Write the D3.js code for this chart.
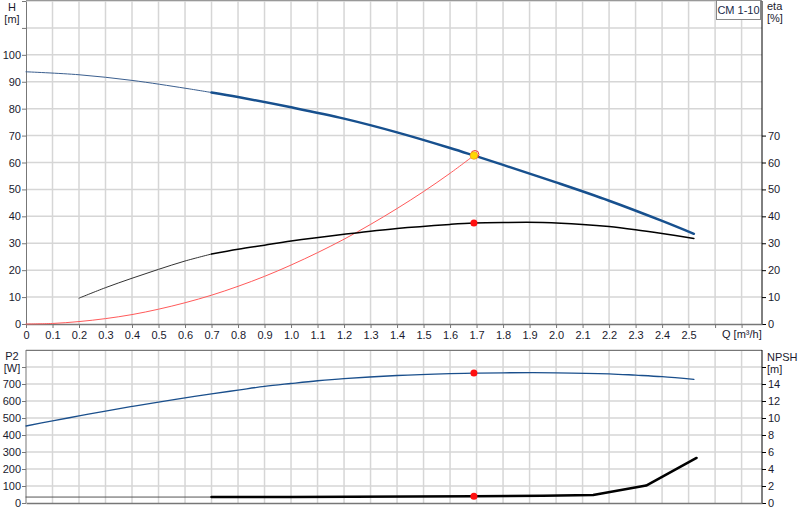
<!DOCTYPE html>
<html>
<head>
<meta charset="utf-8">
<script src="https://cdn.jsdelivr.net/npm/d3@7"></script>
<style>
  body { margin: 0; background: #fff; }
  svg { display: block; font-family: "Liberation Sans", Arial, sans-serif; }
</style>
</head>
<body>
<svg id="chart" width="800" height="520"></svg>
<script>
// values
const qTicks = [0, 0.1, 0.2, 0.3, 0.4, 0.5, 0.6, 0.7, 0.8, 0.9, 1.0, 1.1, 1.2, 1.3, 1.4, 1.5, 1.6, 1.7, 1.8, 1.9, 2.0, 2.1, 2.2, 2.3, 2.4, 2.5];
const qGrid = [0, 0.1, 0.2, 0.3, 0.4, 0.5, 0.6, 0.7, 0.8, 0.9, 1.0, 1.1, 1.2, 1.3, 1.4, 1.5, 1.6, 1.7, 1.8, 1.9, 2.0, 2.1, 2.2, 2.3, 2.4, 2.5, 2.6, 2.7];

// head curve H [m], thin part then thick (operating range)
const headThin = [[0, 93.7], [0.2, 92.6], [0.4, 90.5], [0.6, 87.6], [0.7, 86.0]];
const headThick = [[0.7, 86.0], [0.8, 84.3], [1.0, 80.5], [1.2, 76.3], [1.4, 71.2], [1.6, 65.4], [1.69, 62.6], [1.8, 59.1], [2.0, 52.6], [2.2, 45.8], [2.4, 38.3], [2.52, 33.5]];

// efficiency eta [%]
const etaThin = [[0.2, 9.6], [0.3, 13.5], [0.4, 17.0], [0.5, 20.3], [0.6, 23.4], [0.7, 26.0]];
const etaThick = [[0.7, 26.0], [0.8, 27.8], [0.9, 29.3], [1.0, 30.8], [1.2, 33.3], [1.4, 35.5], [1.6, 37.0], [1.69, 37.5], [1.8, 37.7], [1.95, 37.7], [2.1, 37.0], [2.2, 36.2], [2.3, 35.0], [2.4, 33.6], [2.52, 31.8]];

// system curve (red)
const system = [[0, 0], [0.1, 0.2], [0.2, 0.9], [0.3, 2.0], [0.4, 3.5], [0.5, 5.5], [0.6, 7.9], [0.7, 10.7], [0.8, 14.0], [0.9, 17.7], [1.0, 21.9], [1.1, 26.5], [1.2, 31.5], [1.3, 37.0], [1.4, 42.9], [1.5, 49.2], [1.6, 56.0], [1.69, 62.6]];

// power P2 [W]
const power = [[0, 453], [0.1, 483], [0.2, 512], [0.3, 541], [0.4, 568], [0.5, 594], [0.6, 618], [0.7, 642], [0.8, 664], [0.9, 686], [1.0, 703], [1.1, 719], [1.2, 732], [1.4, 750], [1.6, 761], [1.69, 764], [1.8, 766], [2.0, 766], [2.2, 760], [2.3, 752], [2.4, 743], [2.52, 727]];

// NPSH [m]
const npshThin = [[0, 0.7], [0.7, 0.7]];
const npshThick = [[0.7, 0.7], [1.0, 0.72], [1.69, 0.8], [1.95, 0.86], [2.14, 0.95], [2.34, 2.05], [2.53, 5.3]];

const duty = { q: 1.69, h: 62.6, eta: 37.5, p2: 764, npsh: 0.8 };

const hTicks = [0, 10, 20, 30, 40, 50, 60, 70, 80, 90, 100, 110, 120];
const hLabels = [0, 10, 20, 30, 40, 50, 60, 70, 80, 90, 100];
const etaLabels = [0, 10, 20, 30, 40, 50, 60, 70];
const pTicks = [0, 100, 200, 300, 400, 500, 600, 700, 800, 900];
const pLabels = [0, 100, 200, 300, 400, 500, 600, 700];
const nTicks = [0, 2, 4, 6, 8, 10, 12, 14, 16];
const nLabels = [0, 2, 4, 6, 8, 10, 12, 14];

const svg = d3.select("#chart");
const left = 26, right = 762;

const x = d3.scaleLinear().domain([0, 2.777]).range([left, right]);
const yH = d3.scaleLinear().domain([0, 120]).range([324, 1]);
const yP = d3.scaleLinear().domain([0, 900]).range([503, 350]);
const yN = d3.scaleLinear().domain([0, 18]).range([503, 350]);

const gridColor = "#d6d6d6";
const textColor = "#1a1a2e";

function grid(yScale, yValues, top, bottom) {
    const g = svg.append("g");
    g.selectAll("line.v").data(qGrid.slice(1)).enter().append("line")
        .attr("x1", d => x(d)).attr("x2", d => x(d))
        .attr("y1", top).attr("y2", bottom)
        .attr("stroke", gridColor).attr("stroke-width", 1.5);
    g.selectAll("line.h").data(yValues.slice(1)).enter().append("line")
        .attr("x1", left).attr("x2", right)
        .attr("y1", d => yScale(d)).attr("y2", d => yScale(d))
        .attr("stroke", gridColor).attr("stroke-width", 1.5);
}

grid(yH, hTicks, 1, 324);
grid(yP, pTicks, 350, 503);

// frames
svg.append("line").attr("x1", left).attr("x2", right).attr("y1", 0.5).attr("y2", 0.5).attr("stroke", "#999");
svg.append("line").attr("x1", left).attr("x2", right).attr("y1", 350.5).attr("y2", 350.5).attr("stroke", "#777");

// axes
function styleAxis(g, color) {
    g.selectAll("path, line").attr("stroke", color);
    g.selectAll("text").attr("fill", textColor).style("font-size", "11px")
        .style("font-family", "'Liberation Sans', Arial, sans-serif");
}

// top panel
const axH = svg.append("g").attr("transform", `translate(${left},0)`)
    .call(d3.axisLeft(yH).tickValues(hTicks).tickSize(4).tickSizeOuter(0)
        .tickFormat(d => hLabels.includes(d) ? d : ""));
styleAxis(axH, "#777");
axH.selectAll("text").attr("x", -5);

const axEta = svg.append("g").attr("transform", `translate(${right},0)`)
    .call(d3.axisRight(yH).tickValues(etaLabels).tickSize(4).tickSizeOuter(0));
styleAxis(axEta, "#000");
axEta.select("path").attr("d", `M0,${yH(0)}V1`);
axEta.selectAll("text").attr("x", 6);

const axQ = svg.append("g").attr("transform", `translate(0,${yH(0)})`)
    .call(d3.axisBottom(x).tickValues(qGrid).tickSize(4).tickSizeOuter(0)
        .tickFormat(d => qTicks.includes(d) ? d3.format(".1f")(d).replace(/^0\.0$/, "0") : ""));
styleAxis(axQ, "#777");
axQ.select("path").attr("stroke-width", 1.5);
axQ.selectAll("text").attr("y", 7);

svg.append("text").attr("x", 722).attr("y", 338).attr("fill", textColor)
    .style("font-size", "11px").text("Q [m³/h]");

// bottom panel
const axP = svg.append("g").attr("transform", `translate(${left},0)`)
    .call(d3.axisLeft(yP).tickValues(pTicks.slice(0, -1)).tickSize(4).tickSizeOuter(0)
        .tickFormat(d => pLabels.includes(d) ? d : ""));
styleAxis(axP, "#777");
axP.select("path").attr("d", `M0,503V350`);
axP.selectAll("text").attr("x", -5);

const axN = svg.append("g").attr("transform", `translate(${right},0)`)
    .call(d3.axisRight(yN).tickValues(nTicks).tickSize(4).tickSizeOuter(0)
        .tickFormat(d => nLabels.includes(d) ? d : ""));
styleAxis(axN, "#000");
axN.select("path").attr("d", `M0,503V350`);
axN.selectAll("text").attr("x", 6);

const axQ2 = svg.append("g").attr("transform", `translate(0,503)`)
    .call(d3.axisBottom(x).tickValues([]).tickSizeOuter(0));
styleAxis(axQ2, "#777");
axQ2.select("path").attr("stroke-width", 1.5);

// axis titles
function title(tx, ty, txt, anchor) {
    svg.append("text").attr("x", tx).attr("y", ty).attr("text-anchor", anchor)
        .attr("fill", textColor).style("font-size", "11px").text(txt);
}
title(12, 11, "H", "middle");
title(12, 23, "[m]", "middle");
title(767, 10, "eta", "start");
title(767, 22, "[%]", "start");
title(12, 360, "P2", "middle");
title(12, 372, "[W]", "middle");
title(767, 361, "NPSH", "start");
title(767, 373, "[m]", "start");

// curves
function curve(data, yScale, color, width, shape) {
    svg.append("path").datum(data)
        .attr("fill", "none").attr("stroke", color).attr("stroke-width", width)
        .attr("stroke-linejoin", "round").attr("stroke-linecap", "round")
        .attr("d", d3.line().x(d => x(d[0])).y(d => yScale(d[1])).curve(shape || d3.curveCatmullRom));
}

curve(system, yH, "#ff5a5a", 1);
curve(headThin, yH, "#3b5f8f", 1);
curve(headThick, yH, "#17508e", 2.5);
curve(etaThin, yH, "#333", 1);
curve(etaThick, yH, "#000", 1.5);
curve(power, yP, "#1a4f8c", 1.3);
curve(npshThin, yN, "#555", 1, d3.curveLinear);
curve(npshThick, yN, "#000", 2.5, d3.curveLinear);

// duty point markers
svg.append("circle").attr("cx", x(duty.q) + 1).attr("cy", yH(duty.h) - 1).attr("r", 4)
    .attr("fill", "none").attr("stroke", "#f03030").attr("stroke-width", 1);
svg.append("circle").attr("cx", x(duty.q)).attr("cy", yH(duty.h)).attr("r", 3.8)
    .attr("fill", "#ffd800").attr("stroke", "#f0a020").attr("stroke-width", 0.8);

const dots = [[yH, duty.eta], [yP, duty.p2], [yN, duty.npsh]];
svg.selectAll("circle.dot").data(dots).enter().append("circle")
    .attr("cx", x(duty.q)).attr("cy", d => d[0](d[1])).attr("r", 3.5)
    .attr("fill", "#ff1010");

// product label
svg.append("rect").attr("x", 716.5).attr("y", 0.5).attr("width", 44).attr("height", 19)
    .attr("fill", "#fff").attr("stroke", "#888");
svg.append("text").attr("x", 738.5).attr("y", 14).attr("text-anchor", "middle")
    .attr("fill", "#1a2a4a").style("font-size", "11px").text("CM 1-10");
</script>
</body>
</html>
